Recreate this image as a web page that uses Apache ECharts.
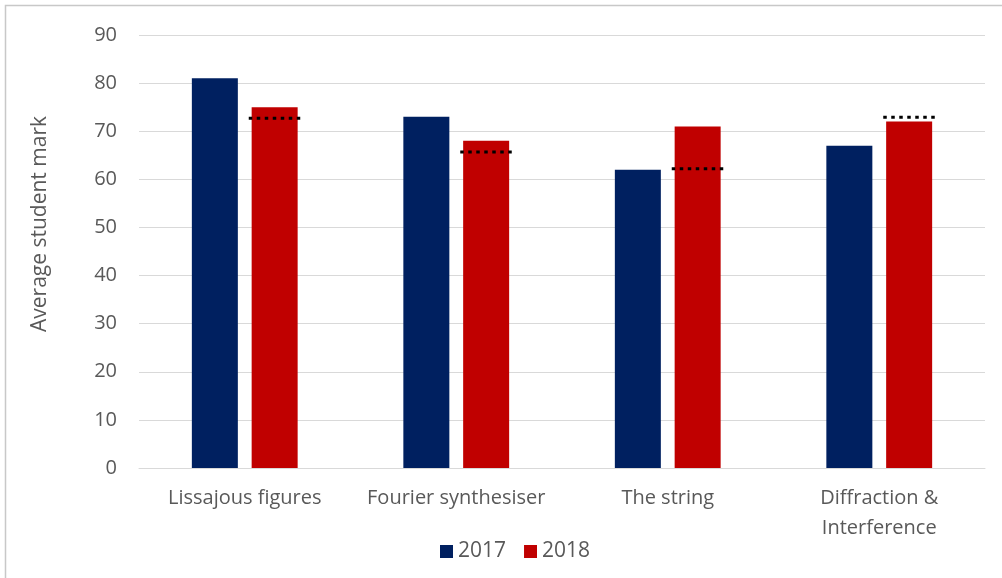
<!DOCTYPE html>
<html>
<head>
<meta charset="utf-8">
<script src="https://cdn.jsdelivr.net/npm/echarts@6/dist/echarts.min.js"></script>
<style>
  html, body { margin: 0; padding: 0; background: #ffffff; }
  #chart { width: 1002px; height: 578px; }
</style>
</head>
<body>
<div id="chart"></div>
<script>
// Experiment categories and yearly average marks
const categories = ['Lissajous figures', 'Fourier synthesiser', 'The string', 'Diffraction &\nInterference'];
const marks2017 = [81, 73, 62, 67];
const marks2018 = [75, 68, 71, 72];
// Reference level shown as a dotted line over each 2018 bar
const referenceMarks = [72.7, 65.7, 62.2, 72.9];
const yTicks = { min: 0, max: 90, interval: 10 };

const FONT = '"Open Sans", "Noto Sans", sans-serif';
const TEXT = '#595959';
const GRID = '#d9d9d9';

const chart = echarts.init(document.getElementById('chart'), null, { renderer: 'canvas' });

chart.setOption({
  animation: false,
  backgroundColor: '#ffffff',
  textStyle: { fontFamily: FONT },
  grid: { left: 139, right: 17, top: 35, bottom: 110, containLabel: false },
  legend: {
    data: ['2017', '2018'],
    left: 435,
    top: 536,
    itemWidth: 13,
    itemHeight: 13,
    itemGap: 18,
    icon: 'rect',
    textStyle: { fontFamily: FONT, fontSize: 21, color: TEXT }
  },
  xAxis: {
    type: 'category',
    data: categories,
    axisLine: { show: true, lineStyle: { color: GRID, width: 1 } },
    axisTick: { show: false },
    axisLabel: {
      color: TEXT,
      fontFamily: FONT,
      fontSize: 20,
      margin: 15,
      lineHeight: 30,
      interval: 0
    }
  },
  yAxis: {
    type: 'value',
    min: yTicks.min,
    max: yTicks.max,
    interval: yTicks.interval,
    axisLine: { show: false },
    axisTick: { show: false },
    axisLabel: { color: TEXT, fontFamily: FONT, fontSize: 20, margin: 22 },
    splitLine: { lineStyle: { color: GRID, width: 1 } }
  },
  graphic: [
    {
      type: 'rect',
      silent: true,
      shape: { x: 5.5, y: 5.5, width: 1010, height: 590 },
      style: { fill: 'none', stroke: '#c8c8c8', lineWidth: 1.5 }
    },
    {
      type: 'text',
      silent: true,
      x: 40,
      y: 224,
      rotation: Math.PI / 2,
      style: {
        text: 'Average student mark',
        font: '21px ' + FONT,
        fill: TEXT,
        align: 'center',
        verticalAlign: 'middle'
      }
    }
  ],
  series: [
    {
      name: '2017',
      type: 'bar',
      data: marks2017,
      barWidth: 46,
      barGap: '30%',
      itemStyle: { color: '#002060' }
    },
    {
      name: '2018',
      type: 'bar',
      data: marks2018,
      barWidth: 46,
      itemStyle: { color: '#c00000' }
    },
    {
      name: 'Reference',
      type: 'custom',
      z: 5,
      data: referenceMarks.map((v, i) => [i, v]),
      renderItem: function (params, api) {
        const p = api.coord([api.value(0), api.value(1)]);
        return {
          type: 'line',
          shape: { x1: p[0] + 4, y1: p[1], x2: p[0] + 56, y2: p[1] },
          style: { stroke: '#000000', lineWidth: 3, lineDash: [3.5, 4.5] }
        };
      }
    }
  ]
});
</script>
</body>
</html>
